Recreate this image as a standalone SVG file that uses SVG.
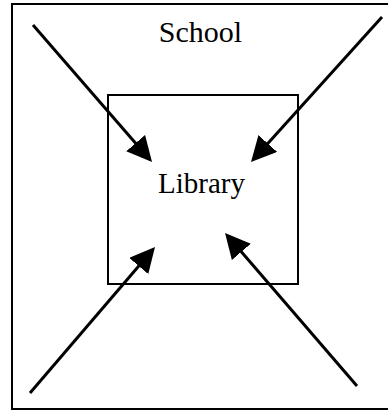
<svg xmlns="http://www.w3.org/2000/svg" width="388" height="410" viewBox="0 0 388 410">
<style>
.box{fill:none;stroke:#000;stroke-width:2}
.lbl{font-family:"Liberation Serif","Times New Roman",serif;fill:#000;text-anchor:middle}
.arr{stroke:#000;stroke-width:3;fill:none;marker-end:url(#ah)}
</style>
<defs>
<marker id="ah" markerUnits="userSpaceOnUse" markerWidth="26" markerHeight="26" refX="5" refY="12.5" orient="auto" viewBox="0 0 26 26">
<path d="M0,0 L25,12.5 L0,25 z" fill="#000"/>
</marker>
</defs>
<g id="school">
<rect class="box" x="12" y="4" width="390" height="405"/>
<text class="lbl" x="200.5" y="41.5" font-size="30">School</text>
</g>
<g id="library">
<rect class="box" x="108" y="95" width="190" height="189"/>
<text class="lbl" x="201.5" y="193" font-size="29">Library</text>
</g>
<g id="connectors">
<line class="arr" x1="33" y1="25" x2="138.9" y2="146.9"/>
<line class="arr" x1="382" y1="17" x2="264.4" y2="147.2"/>
<line class="arr" x1="30" y1="393" x2="142" y2="262.2"/>
<line class="arr" x1="357" y1="386" x2="238.1" y2="248.1"/>
</g>
</svg>
